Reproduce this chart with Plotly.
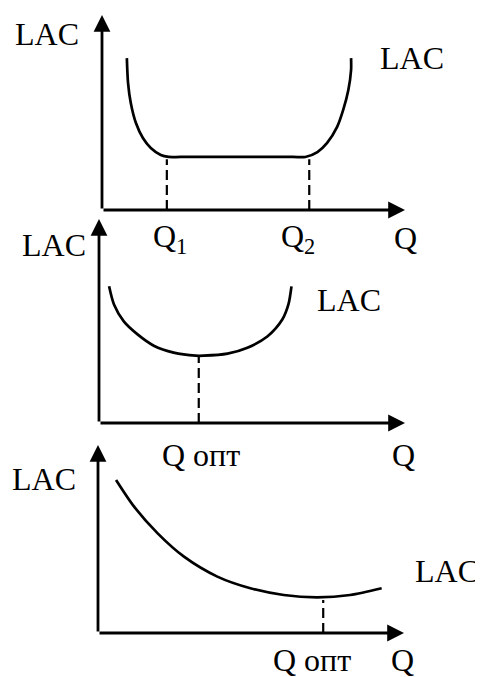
import plotly.graph_objects as go

# ---------------- data (axis units: 0..10 on each panel) ----------------
# Panel 1: flat-bottom LAC
p1_q = [0.82, 0.86, 0.95, 1.12, 1.35, 1.61, 1.94, 2.20, 2.60, 6.30, 6.71, 7.11, 7.43, 7.76, 7.96, 8.13, 8.22, 8.22]
p1_lac = [7.79, 6.51, 5.49, 4.46, 3.69, 3.18, 2.82, 2.72, 2.72, 2.72, 2.72, 2.97, 3.44, 4.26, 5.13, 6.15, 7.18, 7.79]
p1_marks_q = [2.14, 6.84]
p1_marks_lac = [2.60, 2.60]
p1_tick_labels = ["Q<sub>1</sub>", "Q<sub>2</sub>"]

# Panel 2: U-shaped LAC
p2_q = [0.33, 0.49, 0.81, 1.27, 1.79, 2.44, 3.16, 3.42, 4.20, 4.85, 5.50, 5.99, 6.19, 6.29]
p2_lac = [6.70, 5.81, 4.98, 4.33, 3.79, 3.45, 3.30, 3.30, 3.40, 3.69, 4.24, 5.07, 5.81, 6.70]
p2_opt_q = 3.26
p2_opt_lac = 3.25

# Panel 3: decreasing LAC with late minimum
p3_q = [0.59, 1.18, 1.95, 2.81, 3.90, 4.98, 6.07, 7.16, 8.24, 9.27]
p3_lac = [8.14, 6.72, 5.30, 4.06, 3.00, 2.38, 2.02, 1.90, 2.02, 2.38]
p3_opt_q = 7.36
p3_opt_lac = 1.76

opt_label = "Q опт"
axis_q = "Q"
axis_lac = "LAC"

# ---------------- layout helpers ----------------
W, H = 483, 677
OFF = 8  # page body margin compensation
FONT = dict(family="Times New Roman", size=32, color="black")


def xdom(left, right):
    return [(left - OFF) / W, (right - OFF) / W]


def ydom(bottom, top):
    return [1 - (bottom - OFF) / H, 1 - (top - OFF) / H]


fig = go.Figure()

panels = [
    dict(x=xdom(102, 405), y=ydom(210, 15)),
    dict(x=xdom(99, 405), y=ydom(423, 219)),
    dict(x=xdom(98, 404), y=ydom(633, 445)),
]

layout_axes = {}
for i, p in enumerate(panels, start=1):
    sx = "" if i == 1 else str(i)
    layout_axes["xaxis" + sx] = dict(domain=p["x"], range=[0, 10], visible=False,
                                     anchor="y" + sx, fixedrange=True)
    layout_axes["yaxis" + sx] = dict(domain=p["y"], range=[0, 10], visible=False,
                                     anchor="x" + sx, fixedrange=True)

curve_line = dict(color="black", width=2.7, shape="spline", smoothing=0.8)
dash_line = dict(color="black", width=2.2, dash="10px,5px")

# Panel 1
fig.add_trace(go.Scatter(x=p1_q, y=p1_lac, mode="lines", line=curve_line,
                         xaxis="x", yaxis="y", hoverinfo="skip"))
for q, l in zip(p1_marks_q, p1_marks_lac):
    fig.add_trace(go.Scatter(x=[q, q], y=[0, l], mode="lines", line=dash_line,
                             xaxis="x", yaxis="y", hoverinfo="skip"))
# Panel 2
fig.add_trace(go.Scatter(x=p2_q, y=p2_lac, mode="lines", line=curve_line,
                         xaxis="x2", yaxis="y2", hoverinfo="skip"))
fig.add_trace(go.Scatter(x=[p2_opt_q, p2_opt_q], y=[0, p2_opt_lac], mode="lines",
                         line=dash_line, xaxis="x2", yaxis="y2", hoverinfo="skip"))
# Panel 3
fig.add_trace(go.Scatter(x=p3_q, y=p3_lac, mode="lines", line=curve_line,
                         xaxis="x3", yaxis="y3", hoverinfo="skip"))
fig.add_trace(go.Scatter(x=[p3_opt_q, p3_opt_q], y=[0, p3_opt_lac], mode="lines",
                         line=dash_line, xaxis="x3", yaxis="y3", hoverinfo="skip"))

annotations = []


def axis_arrow(xr, yr, x, y):
    return dict(xref=xr, yref=yr, axref=xr, ayref=yr, x=x, y=y, ax=0, ay=0,
                text="", showarrow=True, arrowhead=2, arrowsize=1.2,
                arrowwidth=2.8, arrowcolor="black", standoff=0, startstandoff=0)


def label(px, py, text):
    return dict(xref="paper", yref="paper", x=(px - OFF) / W, y=1 - (py - OFF) / H,
                text=text, showarrow=False, font=dict(FONT),
                xanchor="center", yanchor="middle")


for i in range(1, 4):
    sx = "" if i == 1 else str(i)
    annotations.append(axis_arrow("x" + sx, "y" + sx, 10, 0))
    annotations.append(axis_arrow("x" + sx, "y" + sx, 0, 10))

# Panel 1 labels
annotations += [
    label(47, 34, axis_lac),
    label(412, 58, axis_lac),
    label(170, 238, p1_tick_labels[0]),
    label(298, 238, p1_tick_labels[1]),
    label(405, 238, axis_q),
]
# Panel 2 labels
annotations += [
    label(54, 245, axis_lac),
    label(349, 300, axis_lac),
    label(201, 455, opt_label),
    label(403, 455, axis_q),
]
# Panel 3 labels
annotations += [
    label(44, 479, axis_lac),
    label(447, 571, axis_lac),
    label(312, 660, opt_label),
    label(402, 660, axis_q),
]

fig.update_layout(
    width=W, height=H,
    margin=dict(l=0, r=0, t=0, b=0),
    font=dict(FONT),
    paper_bgcolor="white", plot_bgcolor="rgba(0,0,0,0)",
    showlegend=False,
    annotations=annotations,
    **layout_axes,
)

fig.write_html("out.html")
